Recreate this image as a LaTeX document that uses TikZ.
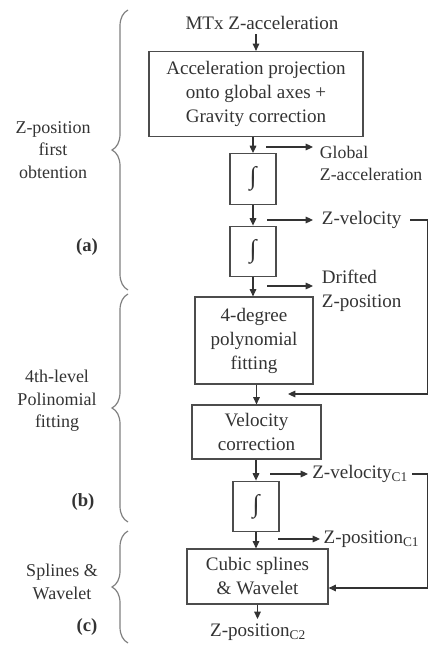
\documentclass[tikz,border=0pt]{standalone}
\usepackage{fontspec}
\setmainfont{Liberation Serif}
\usetikzlibrary{arrows.meta,decorations.pathreplacing}

\begin{document}
\begin{tikzpicture}[
  x=0.75pt, y=-0.75pt,
  every node/.style={font=\fontsize{14.3}{18}\selectfont, text=black!80},
  blk/.style={draw=black!70, line width=0.9pt, align=center, inner sep=1pt},
  intg/.style={blk, minimum width=34.5pt, minimum height=38pt,
    font=\fontsize{19}{19}\selectfont},
  lbl/.style={anchor=west, align=left, inner xsep=6.5pt, inner ysep=1pt},
  grp/.style={align=center, font=\fontsize{13.5}{17}\selectfont},
  tag/.style={font=\fontsize{14}{18}\selectfont\bfseries},
  flow/.style={draw=black!80, line width=0.8pt, -{Triangle[length=5.5pt,width=5pt]}},
  brc/.style={draw=black!50, line width=0.9pt, decorate, decoration={brace, amplitude=12pt}}]
  \useasboundingbox (0,0) rectangle (429,645);
  % 主干
  \node (src) at (262,23) {MTx Z-acceleration};
  \node[blk, minimum width=160.5pt, minimum height=63.75pt] (acc) at (256,94)
    {Acceleration projection\\onto global axes +\\Gravity correction};
  \node[intg] (int1) at (253,179) {∫};
  \node[intg] (int2) at (253,251.5) {∫};
  \node[blk, minimum width=88.5pt, minimum height=65.25pt] (poly) at (254,340.5)
    {4-degree\\polynomial\\fitting};
  \node[blk, minimum width=96.75pt, minimum height=40.5pt] (velc) at (256.5,432)
    {Velocity\\correction};
  \node[intg] (int3) at (256,506.5) {∫};
  \node[blk, minimum width=105.75pt, minimum height=41.25pt] (spl) at (257.5,576.5)
    {Cubic splines\\\& Wavelet};
  \node (dst) at (258,632) {Z-position\textsubscript{C2}};
  \draw[flow] (acc.north |- src.south) -- (acc.north);
  \draw[flow] (int1.north |- acc.south) -- (int1.north);
  \draw[flow] (int1) -- (int2);
  \draw[flow] (int2.south) -- (int2.south |- poly.north);
  \draw[flow] (velc.north |- poly.south) -- (velc.north);
  \draw[flow] (int3.north |- velc.south) -- (int3.north);
  \draw[flow] (int3.south) -- (int3.south |- spl.north);
  \draw[flow] (spl.south) -- (spl.south |- dst.north);
  % 侧支输出
  \node[lbl, inner xsep=5pt, font=\fontsize{13.3}{17}\selectfont] (gacc) at (313,163.5)
    {Global\\Z-acceleration};
  \node[lbl] (zvel) at (313,220) {Z-velocity};
  \node[lbl] (drift) at (313,290.5) {Drifted\\Z-position};
  \node[lbl, inner xsep=3pt] (zvc1) at (308,474) {Z-velocity\textsubscript{C1}};
  \node[lbl, inner xsep=2.5pt] (zpc1) at (320,539) {Z-position\textsubscript{C1}};
  \coordinate (s1) at (266,147);
  \coordinate (s2) at (267,220);
  \coordinate (s3) at (267,286);
  \coordinate (s4) at (270,474);
  \coordinate (s5) at (278,539);
  \draw[flow] (s1) -- (s1 -| gacc.west);
  \draw[flow] (s2) -- (zvel.west);
  \draw[flow] (s3) -- (s3 -| drift.west);
  \draw[flow] (s4) -- (zvc1.west);
  \draw[flow] (s5) -- (zpc1.west);
  % 反馈
  \coordinate (fb1) at (427.8,394);
  \coordinate (fb1e) at (288,394);
  \coordinate (fb2) at (427.8,588);
  \draw[flow] (zvel.east) -| (fb1) -- (fb1e);
  \draw[flow] (zvc1.east) -| (fb2) -- (spl.east |- fb2);
  % 左侧括号
  \draw[brc] (128,290) -- (128,10);
  \draw[brc] (128,522) -- (128,294);
  \draw[brc] (128,643) -- (128,531);
  \node[grp] (gA) at (53,150) {Z-position\\first\\obtention};
  \node[tag] (tA) at (87,247) {(a)};
  \node[grp] (gB) at (57,401) {4th-level\\Polinomial\\fitting};
  \node[tag] (tB) at (83,502) {(b)};
  \node[grp] (gC) at (62,582) {Splines \&\\Wavelet};
  \node[tag] (tC) at (87,627) {(c)};
\end{tikzpicture}
\end{document}
